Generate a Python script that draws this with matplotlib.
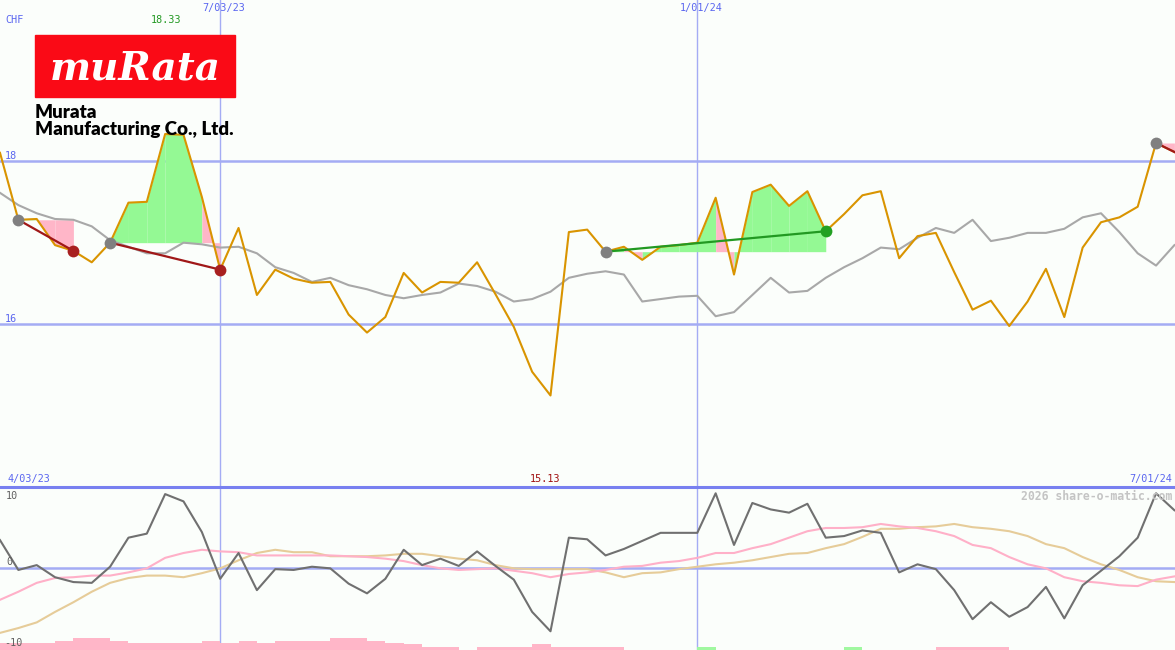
import numpy as np
import matplotlib
matplotlib.use("Agg")
import matplotlib.pyplot as plt
from matplotlib.patches import Rectangle
from matplotlib.lines import Line2D

# ---------------- data (weekly, 4/10/23 .. 7/01/24) ----------------
price = [18.10, 17.28, 17.29, 16.97, 16.90, 16.76, 17.00, 17.49, 17.50, 18.33,
         18.32, 17.56, 16.67, 17.18, 16.36, 16.67, 16.56, 16.51, 16.52, 16.12,
         15.90, 16.09, 16.63, 16.39, 16.52, 16.51, 16.76, 16.37, 15.97, 15.42,
         15.13, 17.13, 17.16, 16.89, 16.95, 16.79, 16.95, 16.97, 17.00, 17.55,
         16.61, 17.62, 17.71, 17.45, 17.63, 17.14, 17.35, 17.58, 17.63, 16.81,
         17.08, 17.12, 16.64, 16.18, 16.29, 15.98, 16.28, 16.68, 16.09, 16.94,
         17.25, 17.31, 17.44, 18.22, 18.11]
moving_avg = [17.61, 17.46, 17.36, 17.29, 17.28, 17.20, 17.03, 16.95, 16.87, 16.87,
              17.00, 16.98, 16.94, 16.95, 16.87, 16.70, 16.63, 16.52, 16.57, 16.48,
              16.43, 16.36, 16.32, 16.36, 16.39, 16.50, 16.47, 16.40, 16.28, 16.31,
              16.40, 16.57, 16.62, 16.65, 16.61, 16.28, 16.31, 16.34, 16.35, 16.10,
              16.15, 16.36, 16.57, 16.39, 16.41, 16.57, 16.70, 16.81, 16.94, 16.92,
              17.06, 17.18, 17.12, 17.28, 17.02, 17.06, 17.12, 17.12, 17.17, 17.31,
              17.36, 17.13, 16.87, 16.72, 16.97]
momentum = [3.4, -0.3, 0.3, -1.2, -1.8, -1.9, 0.1, 3.7, 4.2, 9.1,
            8.2, 4.4, -1.4, 1.8, -2.8, -0.2, -0.3, 0.1, -0.1, -2.0,
            -3.2, -1.4, 2.2, 0.3, 1.1, 0.2, 2.0, 0.2, -1.5, -5.5,
            -7.9, 3.7, 3.5, 1.5, 2.3, 3.3, 4.3, 4.3, 4.3, 9.2,
            2.8, 8.0, 7.2, 6.8, 7.9, 3.7, 3.9, 4.6, 4.3, -0.6,
            0.4, -0.2, -2.8, -6.4, -4.3, -6.1, -4.9, -2.4, -6.3, -2.2,
            -0.4, 1.4, 3.7, 9.2, 7.1]
signal_fast = [-4.0, -3.0, -1.9, -1.3, -1.2, -1.0, -1.0, -0.6, -0.1, 1.2,
               1.8, 2.2, 2.0, 1.9, 1.5, 1.5, 1.5, 1.5, 1.5, 1.4,
               1.3, 1.1, 0.8, 0.3, -0.1, -0.3, -0.2, -0.1, -0.4, -0.7,
               -1.2, -0.8, -0.6, -0.3, 0.1, 0.2, 0.6, 0.8, 1.2, 1.8,
               1.8, 2.4, 2.9, 3.7, 4.5, 4.9, 4.9, 5.0, 5.4, 5.1,
               4.9, 4.5, 3.9, 2.8, 2.4, 1.3, 0.4, -0.1, -1.2, -1.7,
               -1.9, -2.2, -2.3, -1.5, -1.1]
signal_slow = [-8.1, -7.5, -6.8, -5.5, -4.3, -3.0, -1.9, -1.3, -1.0, -1.0,
               -1.2, -0.7, -0.1, 0.9, 1.8, 2.2, 1.9, 1.9, 1.4, 1.4,
               1.4, 1.5, 1.7, 1.7, 1.4, 1.1, 0.9, 0.3, -0.1, -0.2,
               -0.2, -0.2, -0.2, -0.6, -1.2, -0.7, -0.6, -0.2, 0.1, 0.4,
               0.6, 0.9, 1.3, 1.7, 1.8, 2.4, 2.9, 3.8, 4.8, 4.8,
               5.0, 5.1, 5.4, 5.0, 4.8, 4.5, 3.9, 2.9, 2.4, 1.3,
               0.4, -0.3, -1.2, -1.7, -1.8]
bar_height = [0.87, 0.87, 0.87, 1.12, 1.49, 1.49, 1.12, 0.87, 0.87, 0.87,
              0.87, 1.12, 0.87, 1.12, 0.87, 1.12, 1.12, 1.12, 1.49, 1.49,
              1.12, 0.87, 0.74, 0.37, 0.37, 0.0, 0.37, 0.37, 0.37, 0.74,
              0.37, 0.37, 0.37, 0.37, 0.0, 0.0, 0.0, 0.0, 0.37, 0.0,
              0.0, 0.0, 0.0, 0.0, 0.0, 0.0, 0.37, 0.0, 0.0, 0.0,
              0.0, 0.37, 0.37, 0.37, 0.37, 0.0, 0.0, 0.0, 0.0, 0.0,
              0.0, 0.0, 0.0, 0.0]
bar_sign = ["n"] * 38 + ["p"] + ["n"] * 7 + ["p"] + ["n"] * 17
trades = [(1, 4, "loss"), (6, 12, "loss"), (33, 45, "gain"), (63, 64, "open")]
vlines = {12: "7/03/23", 38: "1/01/24"}

# ---------------- figure ----------------
W, H = 1175, 650
PX = 18.35  # pixels per week
fig = plt.figure(figsize=(W / 100, H / 100), dpi=100)
bg = "#fbfefb"
fig.patch.set_facecolor(bg)
ax = fig.add_axes([0, 163 / H, 1, 487 / H])
ax2 = fig.add_axes([0, 0, 1, 163 / H])
for a in (ax, ax2):
    a.set_facecolor(bg)
    a.set_xlim(0, W / PX)
    for s in a.spines.values():
        s.set_visible(False)
    a.set_xticks([])
    a.set_yticks([])
ax.set_ylim(14.01, 19.97)
ax2.set_ylim(-10.22, 9.98)

idx = np.arange(len(price))
grid_c = "#a4acf4"
for lvl in (18, 16):
    ax.axhline(lvl, color=grid_c, lw=1.8, zorder=0.5)
for k in vlines:
    ax.axvline(k, color=grid_c, lw=1.0, zorder=0.5)
    ax2.axvline(k, color=grid_c, lw=1.0, zorder=0.5)
ax2.axhline(0, color=grid_c, lw=1.8, zorder=0.5)
fig.add_artist(Line2D([0, 1], [1 - 486.5 / H] * 2, color="#7880f0", lw=2.2,
                      transform=fig.transFigure))

# trade fills
green_f, pink_f = "#94f994", "#ffb6c8"
for s, e, kind in trades:
    entry = price[s]
    for i in range(s, e):
        c = green_f if price[i + 1] >= entry else pink_f
        ax.fill_between([i, i + 1], [price[i], price[i + 1]], entry,
                        color=c, lw=0, zorder=1)

ax.plot(idx, moving_avg, color="#a8a8a8", lw=1.5, zorder=2)
ax.plot(idx, price, color="#d99400", lw=1.5, zorder=3)

for s, e, kind in trades:
    lc = "#229922" if kind == "gain" else "#a01818"
    ax.plot([s, e], [price[s], price[e]], color=lc, lw=1.6, zorder=4)
    ax.plot(s, price[s], "o", color="#808080", ms=8.5, mew=0, zorder=5)
    if kind != "open":
        mc = "#22a022" if kind == "gain" else "#a82020"
        ax.plot(e, price[e], "o", color=mc, ms=8.5, mew=0, zorder=5)

# lower panel
cols = ["#a0f8a0" if c == "p" else "#ffb6c8" for c in bar_sign]
ax2.bar(np.arange(len(bar_height)), bar_height, width=1, align="edge",
        bottom=-10.22, color=cols, lw=0, zorder=1)
ax2.plot(idx, signal_slow, color="#e6cc99", lw=1.5, zorder=2)
ax2.plot(idx, signal_fast, color="#ffb0c8", lw=1.5, zorder=2)
ax2.plot(idx, momentum, color="#707070", lw=1.5, zorder=3)


def t(x, y, s, **kw):
    fig.text(x / W, 1 - y / H, s, va="center", **kw)


mono = "DejaVu Sans Mono"
blue = "#5a66f0"
fs = 7.3
t(5, 20, "CHF", color=blue, family=mono, size=fs)
t(166, 20, "18.33", color="#229922", family=mono, size=fs, ha="center")
for k, lab in vlines.items():
    t(k * PX + 4, 8, lab, color=blue, family=mono, size=fs, ha="center")
t(5, 156, "18", color=blue, family=mono, size=fs)
t(5, 319, "16", color=blue, family=mono, size=fs)
t(7, 479, "4/03/23", color=blue, family=mono, size=fs)
t(545, 479, "15.13", color="#a01010", family=mono, size=fs, ha="center")
t(1172, 479, "7/01/24", color=blue, family=mono, size=fs, ha="right")
t(1172, 496, "2026 share-o-matic.com", color="#c4c4c4", family=mono,
  size=8.3, ha="right", weight="bold")
t(6, 496, "10", color="#606060", family=mono, size=fs)
t(6, 562, "0", color="#606060", family=mono, size=fs)
t(4, 643, "-10", color="#606060", family=mono, size=fs)

# logo
fig.add_artist(Rectangle((35 / W, 1 - 97 / H), 200 / W, 62 / H,
                         transform=fig.transFigure, color="#fa0a16", zorder=10))
fig.text(135 / W, 1 - 69 / H, "muRata", color="white", family="DejaVu Serif",
         style="italic", weight="bold", size=28, ha="center", va="center",
         zorder=11)
fig.text(35 / W, 1 - 112 / H, "Murata", color="black", family="Lato",
         weight="heavy", size=13.5, va="center", zorder=11)
fig.text(35 / W, 1 - 130 / H, "Manufacturing Co., Ltd.", color="black",
         family="Lato", weight="heavy", size=13.5, va="center", zorder=11)

fig.savefig("out.png", dpi=100, facecolor=bg)
